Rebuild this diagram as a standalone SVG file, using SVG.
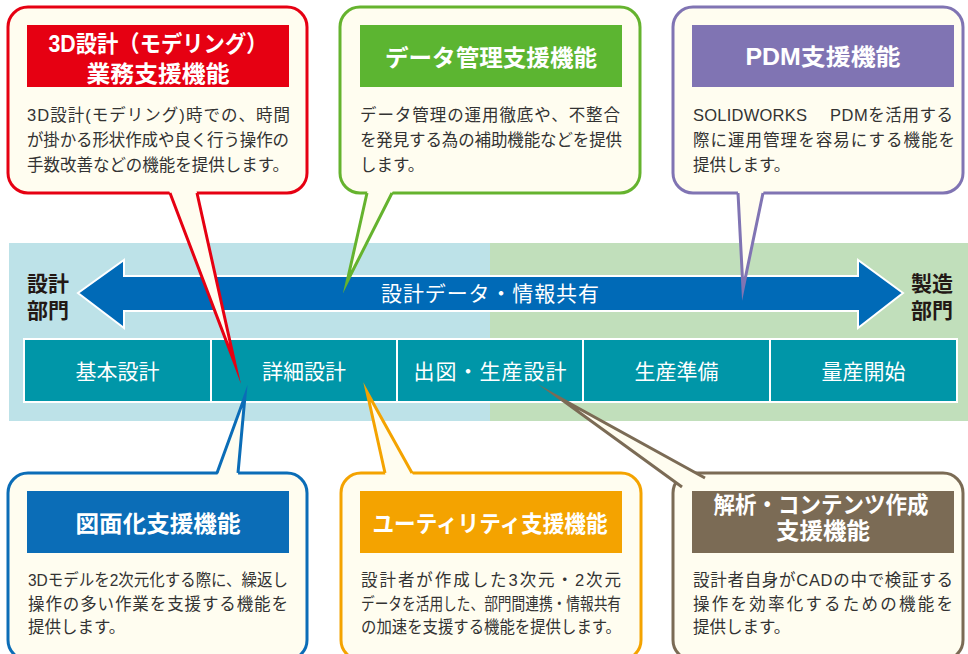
<svg xmlns="http://www.w3.org/2000/svg" width="968" height="654" viewBox="0 0 968 654">
<style>
.t{font-family:"Liberation Sans","Noto Sans CJK JP",sans-serif}
.box{fill:#fffdf0;stroke-width:3}
.tailf{fill:#fffdf0;stroke:none}
.tail{fill:none;stroke-width:3;stroke-linejoin:miter;stroke-miterlimit:20}
.title{font-size:23px;font-weight:700;fill:#fff;text-anchor:middle}
.body{font-size:16.5px;fill:#333}
.phase{font-size:21px;fill:#fff;text-anchor:middle}
.dept{font-size:21px;font-weight:700;fill:#231815}
.ph{fill:#0096a8;stroke:#fff;stroke-width:2}
</style>

<g id="band">
<rect x="9" y="243" width="481" height="178" fill="#bde2e8"/>
<rect x="490" y="243" width="478" height="178" fill="#c1dfbb"/>
</g>

<g id="share-arrow">
<polygon points="78,293 124,260 124,276 858,276 858,260 903,293 858,328 858,311 124,311 124,328" fill="#006ab7" stroke="#fff" stroke-width="2"/>
<text class="t" x="381" y="301" font-size="21" fill="#fff" textLength="218">設計データ・情報共有</text>
</g>

<g id="dept-design">
<text class="t dept" x="27" y="291">設計<tspan x="27" dy="27">部門</tspan></text>
</g>
<g id="dept-mfg">
<text class="t dept" x="911" y="291">製造<tspan x="911" dy="27">部門</tspan></text>
</g>

<g id="phases">
<g id="phase1"><rect class="ph" x="24" y="339" width="187" height="63"/><text class="t phase" x="117.5" y="379">基本設計</text></g>
<g id="phase2"><rect class="ph" x="211" y="339" width="186" height="63"/><text class="t phase" x="304" y="379">詳細設計</text></g>
<g id="phase3"><rect class="ph" x="397" y="339" width="186" height="63"/><text class="t phase" x="490" y="379" textLength="153">出図・生産設計</text></g>
<g id="phase4"><rect class="ph" x="583" y="339" width="187" height="63"/><text class="t phase" x="676.5" y="379">生産準備</text></g>
<g id="phase5"><rect class="ph" x="770" y="339" width="187" height="63"/><text class="t phase" x="863.5" y="379">量産開始</text></g>
</g>

<g id="callout-3d">
<rect class="box" x="8" y="7" width="299" height="186" rx="20" stroke="#e60012"/>
<rect x="27" y="25" width="262" height="62" fill="#e60012"/>
<text class="t title" x="158" y="52"><tspan x="158" textLength="219" lengthAdjust="spacingAndGlyphs">3D設計（モデリング）</tspan><tspan x="158" dy="30" textLength="143" lengthAdjust="spacingAndGlyphs">業務支援機能</tspan></text>
<text class="t body" x="27" y="121" textLength="263">3D設計(モデリング)時での、時間</text>
<text class="t body" x="27" y="146" textLength="262">が掛かる形状作成や良く行う操作の</text>
<text class="t body" x="27" y="171" textLength="262">手数改善などの機能を提供します。</text>
</g>

<g id="callout-data">
<rect class="box" x="340" y="7" width="300" height="186" rx="20" stroke="#65b32e"/>
<rect x="360" y="25" width="262" height="62" fill="#5cb531"/>
<text class="t title" x="491" y="66" textLength="212" lengthAdjust="spacingAndGlyphs">データ管理支援機能</text>
<text class="t body" x="360" y="121" textLength="260">データ管理の運用徹底や、不整合</text>
<text class="t body" x="360" y="146" textLength="262">を発見する為の補助機能などを提供</text>
<text class="t body" x="360" y="171">します。</text>
</g>

<g id="callout-pdm">
<rect class="box" x="673" y="7" width="290" height="186" rx="20" stroke="#8074b3"/>
<rect x="692" y="25" width="262" height="62" fill="#8074b3"/>
<text class="t title" x="823" y="65" textLength="155" lengthAdjust="spacingAndGlyphs">PDM支援機能</text>
<text class="t body" x="693" y="121"><tspan x="693" textLength="114">SOLIDWORKS</tspan> <tspan x="830" textLength="123">PDMを活用する</tspan></text>
<text class="t body" x="693" y="146" textLength="262">際に運用管理を容易にする機能を</text>
<text class="t body" x="693" y="171">提供します。</text>
</g>

<g id="callout-drawing">
<rect class="box" x="8" y="473" width="299" height="187" rx="20" stroke="#0b6db7"/>
<rect x="27" y="491" width="262" height="62" fill="#0b6db7"/>
<text class="t title" x="158" y="532" textLength="165" lengthAdjust="spacingAndGlyphs">図面化支援機能</text>
<text class="t body" x="28" y="586" textLength="260" lengthAdjust="spacingAndGlyphs">3Dモデルを2次元化する際に、繰返し</text>
<text class="t body" x="28" y="609.5" textLength="260">操作の多い作業を支援する機能を</text>
<text class="t body" x="28" y="633">提供します。</text>
</g>

<g id="callout-utility">
<rect class="box" x="341" y="473" width="300" height="187" rx="20" stroke="#f4a300"/>
<rect x="360" y="491" width="262" height="62" fill="#f4a300"/>
<text class="t title" x="490" y="532" textLength="235" lengthAdjust="spacingAndGlyphs">ユーティリティ支援機能</text>
<text class="t body" x="361" y="586" textLength="260">設計者が作成した3次元・2次元</text>
<text class="t body" x="361" y="609.5" textLength="260" lengthAdjust="spacingAndGlyphs">データを活用した、部門間連携・情報共有</text>
<text class="t body" x="361" y="633" textLength="260" lengthAdjust="spacingAndGlyphs">の加速を支援する機能を提供します。</text>
</g>

<g id="callout-analysis">
<rect class="box" x="673" y="473" width="290" height="187" rx="20" stroke="#7b6b55"/>
<rect x="692" y="491" width="262" height="62" fill="#7b6b55"/>
<text class="t title" x="821" y="513"><tspan x="821" textLength="215" lengthAdjust="spacingAndGlyphs">解析・コンテンツ作成</tspan><tspan x="823" dy="26" textLength="94" lengthAdjust="spacingAndGlyphs">支援機能</tspan></text>
<text class="t body" x="693" y="586" textLength="260">設計者自身がCADの中で検証する</text>
<text class="t body" x="693" y="609.5" textLength="260">操作を効率化するための機能を</text>
<text class="t body" x="693" y="633">提供します。</text>
</g>

<g id="connectors">
<polygon class="tailf" points="168.5,189 196.1,189 235,364"/>
<polyline class="tail" points="170,193 235,364 197,193" stroke="#e60012"/>
<polygon class="tailf" points="367.9,189 393.9,189 347,282"/>
<polyline class="tail" points="367,193 347,282 392,193" stroke="#65b32e"/>
<polygon class="tailf" points="737.8,189 764,189 743,289"/>
<polyline class="tail" points="738,193 743,289 763,193" stroke="#8074b3"/>
<polygon class="tailf" points="216.7,477 237.8,477 245,396"/>
<polyline class="tail" points="217,473 245,396 238,473" stroke="#0b6db7"/>
<polygon class="tailf" points="385.9,477 414.2,477 367,392"/>
<polyline class="tail" points="385,473 367,392 412,473" stroke="#f4a300"/>
<polygon class="tailf" points="558,397 705,478 682,487"/>
<polyline class="tail" points="705,478 558,397 682,487" stroke="#7b6b55"/>
</g>
</svg>
